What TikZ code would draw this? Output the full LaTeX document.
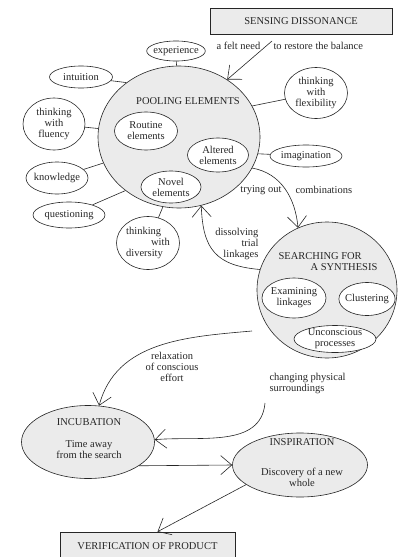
\documentclass[tikz,border=0pt]{standalone}
\usepackage{fontspec}
\setmainfont{Liberation Serif}
\usetikzlibrary{shapes.geometric,arrows.meta}

\begin{document}
\begin{tikzpicture}[x=1pt,y=1pt,
  font=\fontsize{10.5}{11}\selectfont,
  every node/.style={text=black!85},
  blob/.style={ellipse,draw=black!85,line width=0.6pt,fill=white,
    inner xsep=-2pt,inner ysep=-1pt,align=center},
  bigblob/.style={ellipse,draw=black!85,line width=0.6pt,fill=gray!16,inner sep=0pt},
  stagebox/.style={rectangle,draw=black!85,line width=0.6pt,fill=gray!16,inner sep=0pt},
  link/.style={draw=black!85,line width=0.6pt},
  arr/.style={draw=black!85,line width=0.6pt,-{Straight Barb[length=11pt,width=19pt]}}
]

\useasboundingbox (0,0) rectangle (399,-557);

% ============================
% SENSING DISSONANCE
% ============================

\node[stagebox,minimum width=182pt,minimum height=26pt] (sense) at (301,-21) {SENSING DISSONANCE};
\node[anchor=west] (needtext) at (213,-46) {a felt need};
\node[anchor=west] (restoretext) at (270,-46) {to restore the balance};
\coordinate (needmark) at (272,-41);

% ============================
% POOLING ELEMENTS
% ============================

\node[bigblob,minimum width=162pt,minimum height=142pt] (pool) at (179,-137) {};
\node (pooltitle) at (188,-101) {POOLING ELEMENTS};
\node[blob,minimum width=63pt,minimum height=38pt] (routine) at (146,-131) {Routine\\elements};
\node[blob,minimum width=61pt,minimum height=34pt] (altered) at (218,-155) {Altered\\elements};
\node[blob,minimum width=60pt,minimum height=32pt] (novel) at (171,-187) {Novel\\elements};

% sources round the pool
\node[blob,minimum width=56pt,minimum height=20pt] (exper) at (176,-51) {experience};
\node[blob,minimum width=63pt,minimum height=22pt] (intu) at (81,-77) {intuition};
\node[blob,minimum width=63pt,minimum height=51pt] (flexi) at (316,-93) {thinking\\with\\flexibility};
\node[blob,minimum width=62pt,minimum height=52pt] (fluen) at (54,-124) {thinking\\with\\fluency};
\node[blob,minimum width=72pt,minimum height=22pt] (imag) at (306,-156) {imagination};
\node[blob,minimum width=62pt,minimum height=32pt] (know) at (57,-178) {knowledge};
\node[blob,minimum width=72pt,minimum height=26pt] (quest) at (69,-215) {questioning};
\node[blob,minimum width=63pt,minimum height=53pt,align=left] (diver) at (148,-243)
  {thinking\\\hspace*{25pt}with\\diversity};

\draw[link] (exper) -- (pool);
\draw[link] (intu) -- (pool.134);
\draw[link] (flexi) -- (pool.23);
\draw[link] (fluen) -- (pool.174);
\draw[link] (know) -- (pool.199);
\draw[link] (quest) -- (pool.225);
\draw[link] (diver) -- (pool.257);
\draw[link] (pool.-12) -- (imag);

% ============================
% SEARCHING FOR A SYNTHESIS
% ============================

\node[bigblob,minimum width=140pt,minimum height=136pt] (search) at (327,-290) {};
\node[align=left] (searchtitle) at (328,-262) {SEARCHING FOR\\\hspace*{32pt}A SYNTHESIS};
\node[blob,minimum width=64pt,minimum height=40pt] (examin) at (294,-298) {Examining\\linkages};
\node[blob,minimum width=55pt,minimum height=33pt] (cluster) at (367,-299) {Clustering};
\node[blob,minimum width=82pt,minimum height=27pt] (uncons) at (335,-339) {Unconscious\\processes};

\node[anchor=east] (tryingtext) at (285,-190) {trying out};
\node[anchor=west] (combitext) at (292,-190) {combinations};
\node[align=right,anchor=east] (dissolvtext) at (262,-244) {dissolving\\trial\\linkages};

% ============================
% INCUBATION / INSPIRATION
% ============================

\node[bigblob,minimum width=133pt,minimum height=73pt] (incub) at (88,-442) {};
\node[align=center] (incubtext) at (89,-439) {INCUBATION\\[11pt]Time away\\from the search};
\node[bigblob,minimum width=135pt,minimum height=64pt] (inspir) at (300,-465) {};
\node[align=center] (inspirtext) at (302,-463) {INSPIRATION\\[19pt]Discovery of a new\\whole};

\node[align=center] (relaxtext) at (172,-367) {relaxation\\of conscious\\effort};
\node[align=left,anchor=west] (chgtext) at (266,-383) {changing physical\\surroundings};
\coordinate (relaxmark) at (252,-331);
\coordinate (chgmark) at (265,-403);

\node[stagebox,minimum width=175pt,minimum height=28pt] (verif) at (147.5,-546) {VERIFICATION OF PRODUCT};

% ============================
% ARROWS
% ============================

\draw[arr] (needmark) -- (pool.50);
\draw[arr] (pool.-23) to[out=-10,in=95] (search.115);
\draw[arr] (search.163) to[out=175,in=-88,looseness=1.3] (pool.-72);
\draw[arr] (relaxmark) to[out=185,in=75] (incub.73);
\draw[arr] (chgmark) to[out=-95,in=5] (incub.2);
\draw[arr] (incub.-25) -- (inspir.west);
\draw[arr] (inspir.200) -- ([xshift=10pt]verif.north);

\end{tikzpicture}
\end{document}
